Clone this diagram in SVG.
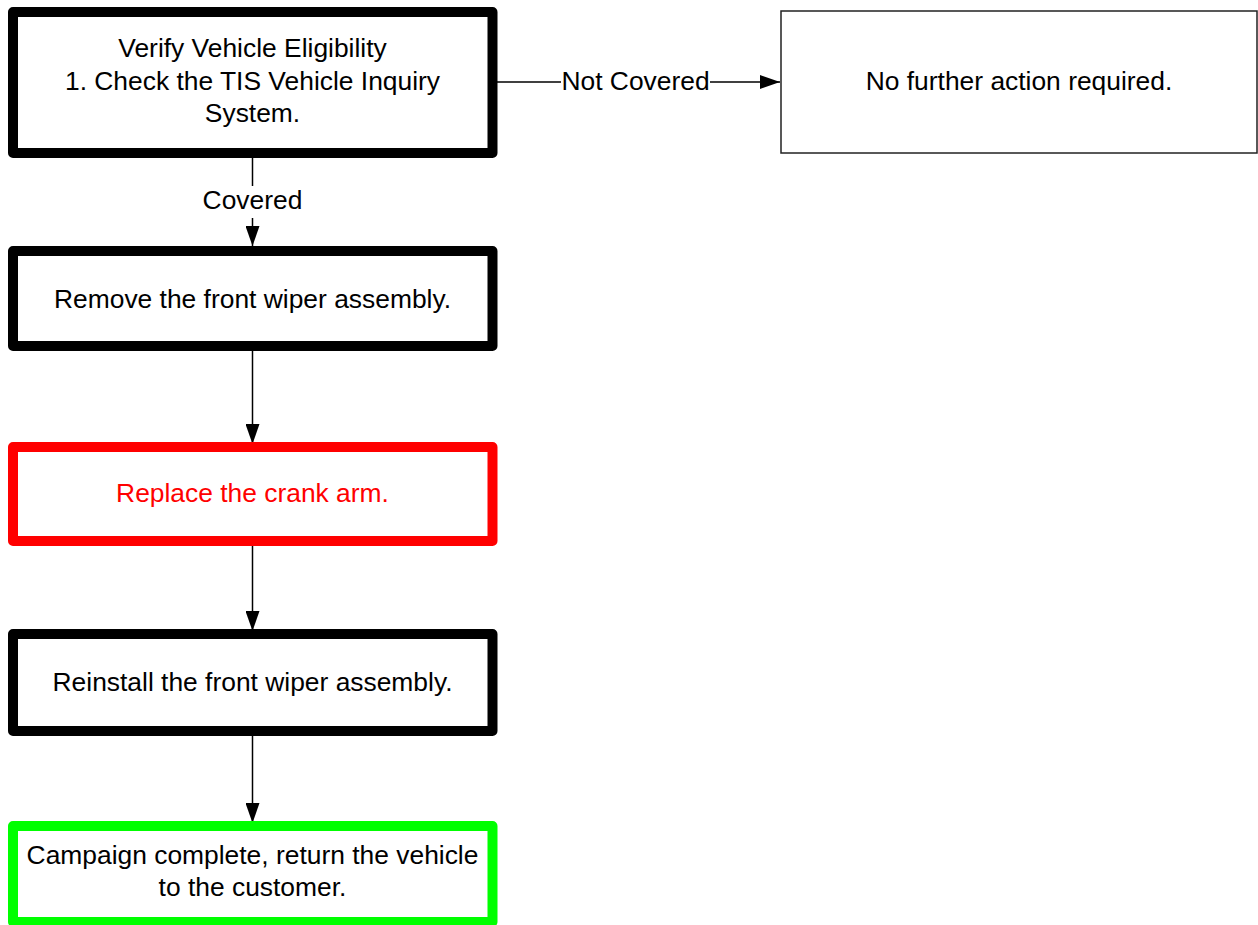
<svg xmlns="http://www.w3.org/2000/svg" width="1258" height="925" viewBox="0 0 1258 925">
<defs>
<style>
.box{fill:#fff;stroke:#000;stroke-width:10;stroke-linejoin:round}
.red{stroke:#ff0000}
.green{stroke:#00ff00}
.thin{fill:#fff;stroke:#222;stroke-width:1.5}
.t{font-family:"Liberation Sans",Arial,sans-serif;font-size:26.4px;fill:#000;text-anchor:middle}
.tr{fill:#ff0000}
.edge{stroke:#000;stroke-width:1.5;fill:none}
.lbl{fill:#fff;stroke:none}
</style>
<marker id="arr" markerUnits="userSpaceOnUse" markerWidth="20" markerHeight="14" refX="20" refY="7" orient="auto">
<path d="M0,0 L20,7 L0,14 z" fill="#000"/>
</marker>
</defs>
<rect width="1258" height="925" fill="#fff"/>
<g id="connectors">
<line class="edge" x1="252.5" y1="158" x2="252.5" y2="246" marker-end="url(#arr)"/>
<rect class="lbl" x="200" y="186" width="105" height="32"/>
<text class="t" x="252.5" y="209">Covered</text>
<line class="edge" x1="497" y1="82" x2="780" y2="82" marker-end="url(#arr)"/>
<rect class="lbl" x="561" y="66" width="149" height="32"/>
<text class="t" x="635.5" y="89.5">Not Covered</text>
<line class="edge" x1="252.5" y1="351" x2="252.5" y2="444" marker-end="url(#arr)"/>
<line class="edge" x1="252.5" y1="546" x2="252.5" y2="631" marker-end="url(#arr)"/>
<line class="edge" x1="252.5" y1="736" x2="252.5" y2="823" marker-end="url(#arr)"/>
</g>
<g id="node-verify">
<rect class="box" x="13" y="12" width="479.5" height="141"/>
<text class="t" x="252.5" y="57">Verify Vehicle Eligibility</text>
<text class="t" x="252.5" y="89.5">1. Check the TIS Vehicle Inquiry</text>
<text class="t" x="252.5" y="122">System.</text>
</g>
<g id="node-nofurther">
<rect class="thin" x="781" y="11" width="476" height="142"/>
<text class="t" x="1019" y="90">No further action required.</text>
</g>
<g id="node-remove">
<rect class="box" x="13" y="251" width="479.5" height="95"/>
<text class="t" x="252.5" y="307.5">Remove the front wiper assembly.</text>
</g>
<g id="node-replace">
<rect class="box red" x="13" y="447" width="479.5" height="94"/>
<text class="t tr" x="252.5" y="502">Replace the crank arm.</text>
</g>
<g id="node-reinstall">
<rect class="box" x="13" y="634" width="479.5" height="97"/>
<text class="t" x="252.5" y="690.5">Reinstall the front wiper assembly.</text>
</g>
<g id="node-complete">
<rect class="box green" x="13" y="826" width="479.5" height="96"/>
<text class="t" x="252.5" y="864">Campaign complete, return the vehicle</text>
<text class="t" x="252.5" y="895.5">to the customer.</text>
</g>
</svg>
